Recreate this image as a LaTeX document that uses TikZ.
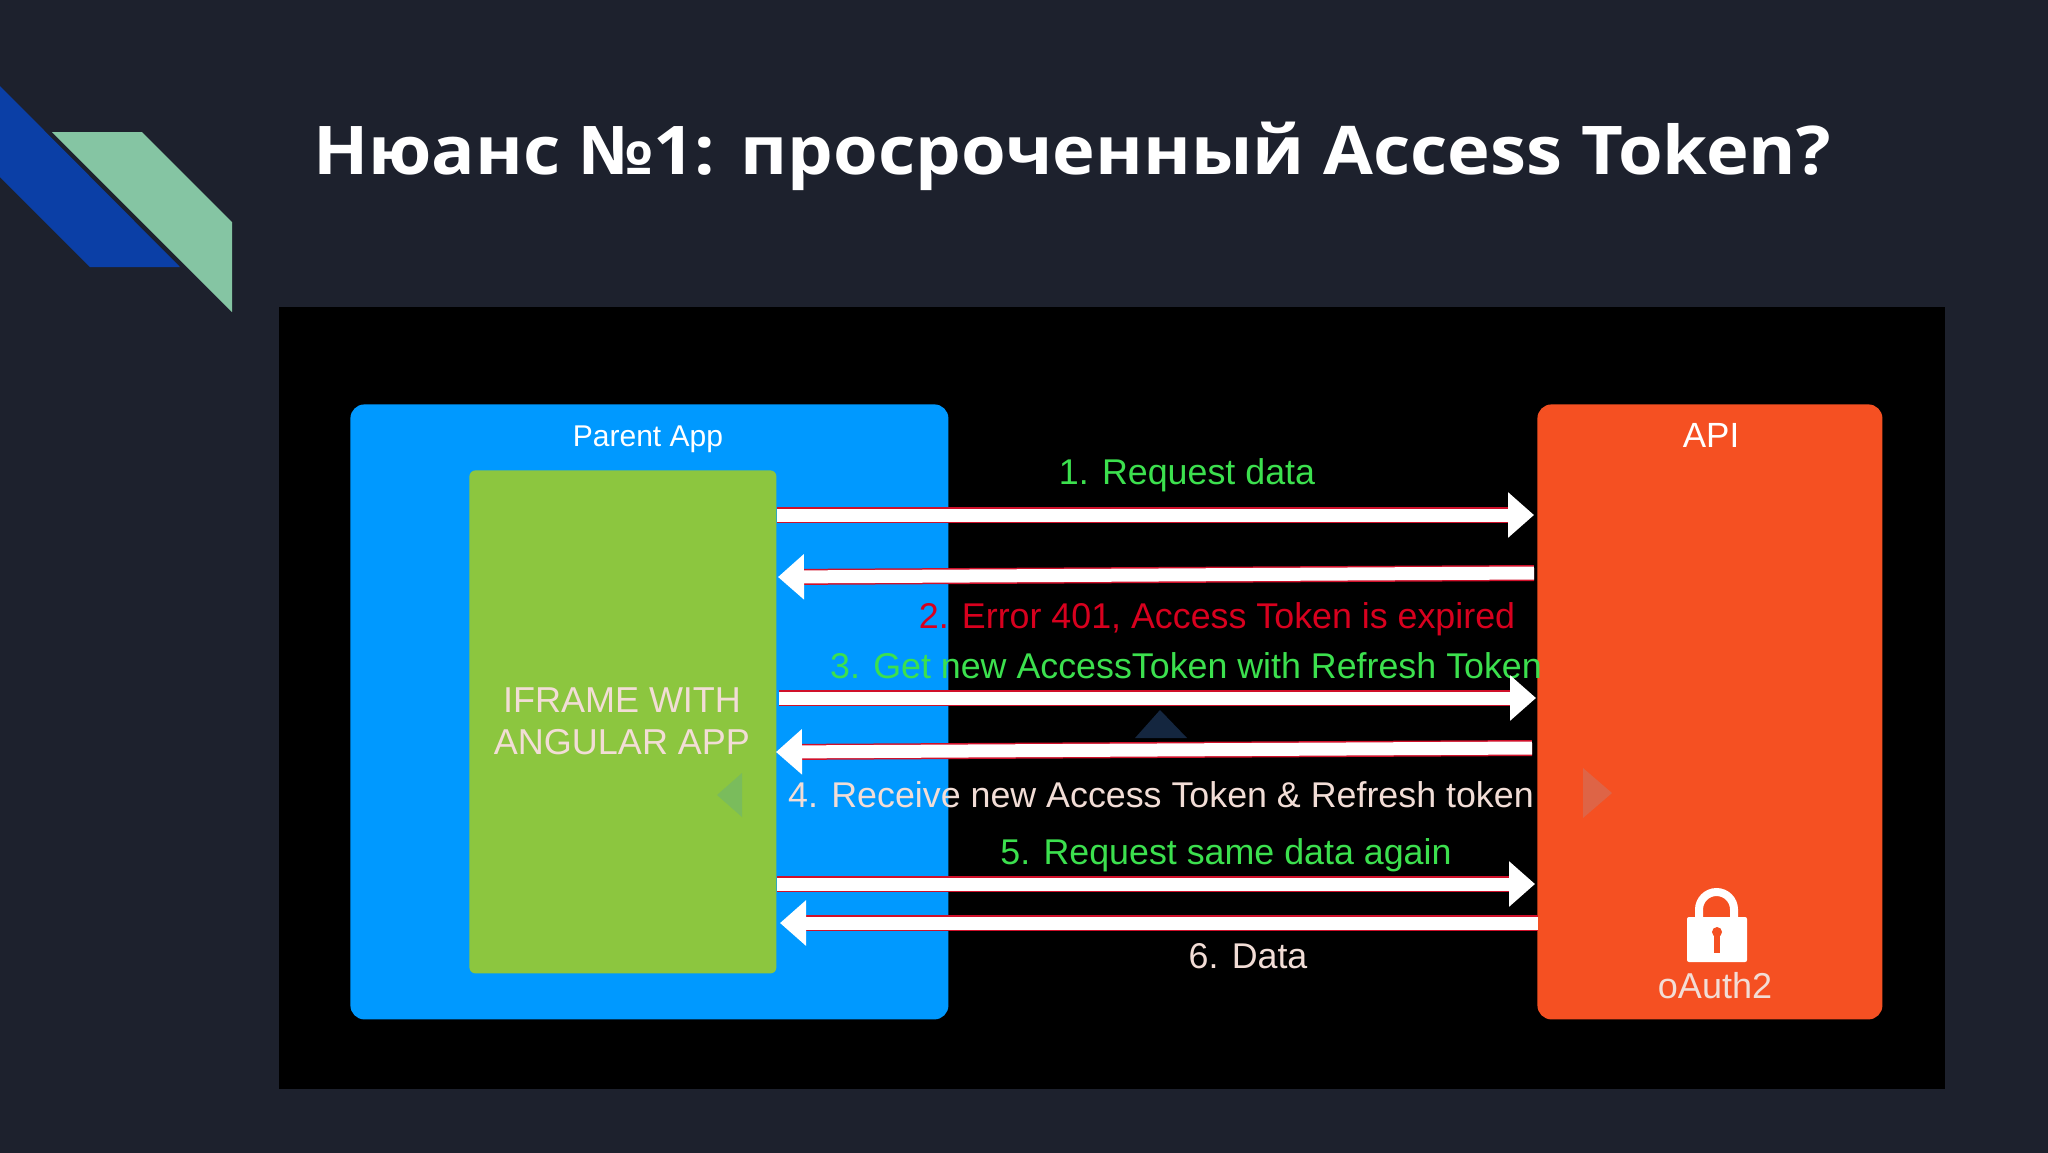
\documentclass[tikz,border=0pt]{standalone}
\usepackage{fontspec}
\usepackage{graphicx}
\setmainfont{Liberation Sans}
\newfontfamily\titlefont{Open Sans}
\usetikzlibrary{arrows.meta, positioning}

\definecolor{slidebg}{HTML}{1D212D}
\definecolor{decoblue}{HTML}{0B3FA6}
\definecolor{decogreen}{HTML}{85C5A3}
\definecolor{parentblue}{HTML}{0099FF}
\definecolor{iframegreen}{HTML}{8CC63F}
\definecolor{apiorange}{HTML}{F55022}
\definecolor{labelgreen}{HTML}{3CE04E}
\definecolor{labelred}{HTML}{D8001E}
\definecolor{labelpale}{HTML}{F2DDD6}
\definecolor{arrowred}{HTML}{D0102A}
\definecolor{faintnavy}{HTML}{14263F}
\definecolor{faintgreen}{HTML}{7ABC5C}
\definecolor{faintorange}{HTML}{DE6446}

\begin{document}
\begin{tikzpicture}[
			x=0.5pt, y=-0.5pt,
			box/.style={anchor=north west, inner sep=0pt, rounded corners=7pt},
			label/.style={inner sep=0pt, font=\fontsize{17.9}{20}\selectfont},
			arrow/.style={white, line width=6.5pt, -{Triangle[length=13pt,width=22pt]},
				preaction={draw=arrowred, line width=8pt, -, shorten >=12pt}},
			backarrow/.style={arrow}
			]
			
			% Background
			\useasboundingbox (0,0) rectangle (2048,1152);
			\fill[slidebg] (-4,-4) rectangle (2052,1156);
			\fill[decoblue] (0,86) -- (180,267) -- (90,267) -- (0,177) -- cycle;
			\fill[decogreen] (52,132) -- (142,132) -- (232,222) -- (232,312) -- cycle;
			\fill[black] (279,307) rectangle (1945,1089);
			
			% Nodes
			\node (title) [inner sep=0pt, white, anchor=base] at (1072,174)
				{\titlefont\bfseries\fontsize{33.6}{40}\selectfont\scalebox{1.076}[1]{Нюанс №1: просроченный Access Token?}};
			\node (parent) [box, fill=parentblue, minimum width=299pt, minimum height=307.5pt] at (350,404) {};
			\node (iframe) [box, fill=iframegreen, rounded corners=3pt, minimum width=153.5pt, minimum height=251.5pt] at (469,470) {};
			\node (api) [box, fill=apiorange, minimum width=172.5pt, minimum height=307.5pt] at (1537,404) {};
			\node (parent_label) [label, text=white, font=\fontsize{15}{18}\selectfont] at (648,439) {Parent App};
			\node (api_label) [label, text=white, font=\fontsize{17.5}{18}\selectfont] at (1711,435) {API};
			\node (iframe_label) [label, text=labelpale, align=center, font=\fontsize{18}{21}\selectfont] at (622,721) {IFRAME WITH\\ANGULAR APP};
			\node (oauth_label) [label, text=labelpale, font=\fontsize{18}{20}\selectfont] at (1715,986) {oAuth2};
			
			\node (step1) [label, text=labelgreen] at (1187,475) {1. Request data};
			\node (step2) [label, text=labelred] at (1217,619) {2. Error 401, Access Token is expired};
			\node (step3) [label, text=labelgreen] at (1186,666) {3. Get new AccessToken with Refresh Token};
			\node (step4) [label, text=labelpale] at (1161,795) {4. Receive new Access Token \& Refresh token};
			\node (step5) [label, text=labelgreen] at (1226,855) {5. Request same data again};
			\node (step6) [label, text=labelpale] at (1248,956) {6. Data};
			
			% Arrow ends
			\coordinate (a1) at (777,515);
			\coordinate (b1) at (1534,515);
			\coordinate (a2) at (778,577);
			\coordinate (b2) at (1534,573);
			\coordinate (a3) at (779,698);
			\coordinate (b3) at (1536,698);
			\coordinate (a4) at (776,752);
			\coordinate (b4) at (1532,748);
			\coordinate (a5) at (777,884);
			\coordinate (b5) at (1535,884);
			\coordinate (a6) at (780,923);
			\coordinate (b6) at (1538,923);
			
			% Connections
			\draw [arrow] (a1) -- (b1);
			\draw [backarrow] (b2) -- (a2);
			\draw [arrow] (a3) -- (b3);
			\draw [backarrow] (b4) -- (a4);
			\draw [arrow] (a5) -- (b5);
			\draw [backarrow] (b6) -- (a6);
			
			% Lock
			\draw[white, line width=4pt, rounded corners=8.75pt] (1699,917) -- (1699,892) -- (1734,892) -- (1734,917);
			\fill[white, rounded corners=1pt] (1687,917) rectangle (1747,962);
			\fill[apiorange] (1717,932) circle (5);
			\fill[apiorange] (1714,932) rectangle (1720,953);
			
			% Faint triangles
			\fill[faintgreen] (742,773) -- (742,817) -- (717,795) -- cycle;
			\fill[faintnavy] (1160,710) -- (1187,738) -- (1135,738) -- cycle;
			\fill[faintorange] (1583,768) -- (1612,793) -- (1583,818) -- cycle;
			
		\end{tikzpicture}
\end{document}
